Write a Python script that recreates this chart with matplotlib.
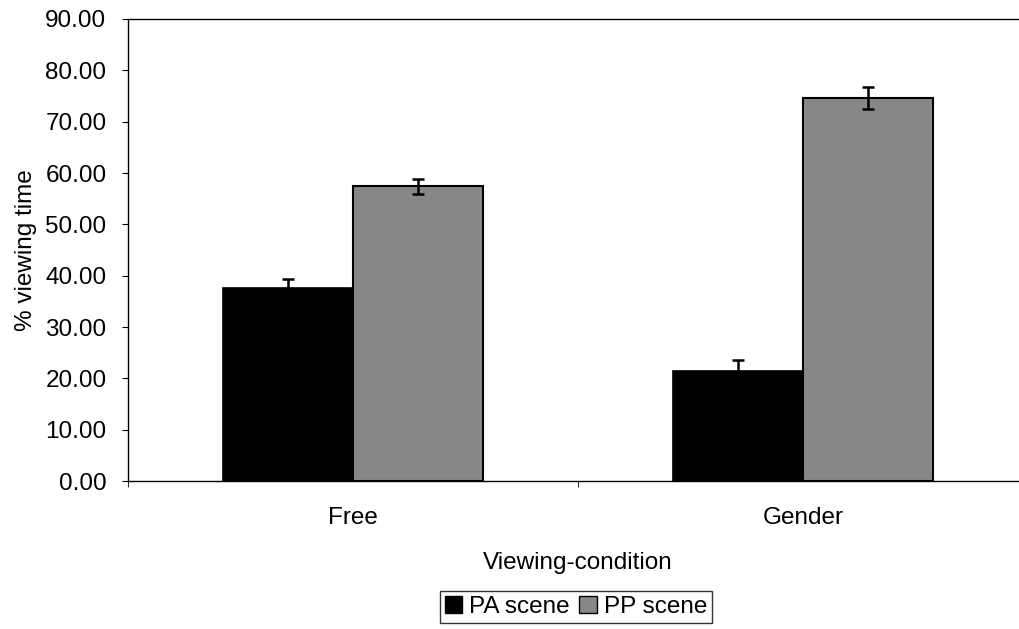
import numpy as np
from matplotlib import pyplot as plt
from matplotlib.patches import Patch

plt.rcParams['font.family'] = ['Liberation Sans', 'DejaVu Sans']

# data
conditions = ['Free', 'Gender']
series = ['PA scene', 'PP scene']
pa_values = [37.6, 21.5]
pp_values = [57.4, 74.6]
pa_err = [1.7, 2.0]
pp_err = [1.5, 2.2]
y_ticks = [0, 10, 20, 30, 40, 50, 60, 70, 80, 90]

colors = ['#000000', '#878787']
fs = 17.5

fig = plt.figure(figsize=(10.19, 6.29), dpi=100)
# axes runs past the right edge of the figure, like the original crop
ax = fig.add_axes([128 / 1019, 1 - 481 / 629, 900 / 1019, 462 / 629])

x = np.arange(len(conditions))
w = 0.289
ax.bar(x - w / 2, pa_values, w, color=colors[0], edgecolor='black', linewidth=1.2)
ax.bar(x + w / 2, pp_values, w, color=colors[1], edgecolor='black', linewidth=1.5)
ax.errorbar(x - w / 2, pa_values, yerr=pa_err, fmt='none', ecolor='black',
            elinewidth=1.8, capsize=4, capthick=1.8)
ax.errorbar(x + w / 2, pp_values, yerr=pp_err, fmt='none', ecolor='black',
            elinewidth=1.8, capsize=4, capthick=1.8)

ax.set_xlim(-0.5, 1.5)
ax.set_ylim(0, 90)
ax.set_yticks(y_ticks)
ax.set_yticklabels(['%.2f' % v for v in y_ticks], fontsize=fs)
ax.set_xticks(x)
ax.set_xticklabels(conditions, fontsize=fs)
ax.tick_params(axis='x', length=0, pad=19)
ax.set_xticks([-0.5, 0.5, 1.5], minor=True)
ax.tick_params(axis='x', which='minor', length=4.5, direction='out')
ax.tick_params(axis='y', length=4.5, direction='out', pad=11)

for side in ['left', 'bottom', 'top', 'right']:
    ax.spines[side].set_linewidth(1.0)

ax.set_xlabel('Viewing-condition', fontsize=fs, labelpad=16)
ax.set_ylabel('% viewing time', fontsize=fs, labelpad=6)

handles = [Patch(facecolor=c, edgecolor='black') for c in colors]
leg = fig.legend(handles, series, loc='center', bbox_to_anchor=(576 / 1019, 1 - 607 / 629),
                 ncol=2, fontsize=fs, frameon=True, fancybox=False, handlelength=0.7,
                 handleheight=0.7, handletextpad=0.3, columnspacing=0.4, borderpad=0.2,
                 borderaxespad=0)
leg.get_frame().set_edgecolor('black')
leg.get_frame().set_linewidth(1.0)

plt.savefig('out.png', dpi=100)
